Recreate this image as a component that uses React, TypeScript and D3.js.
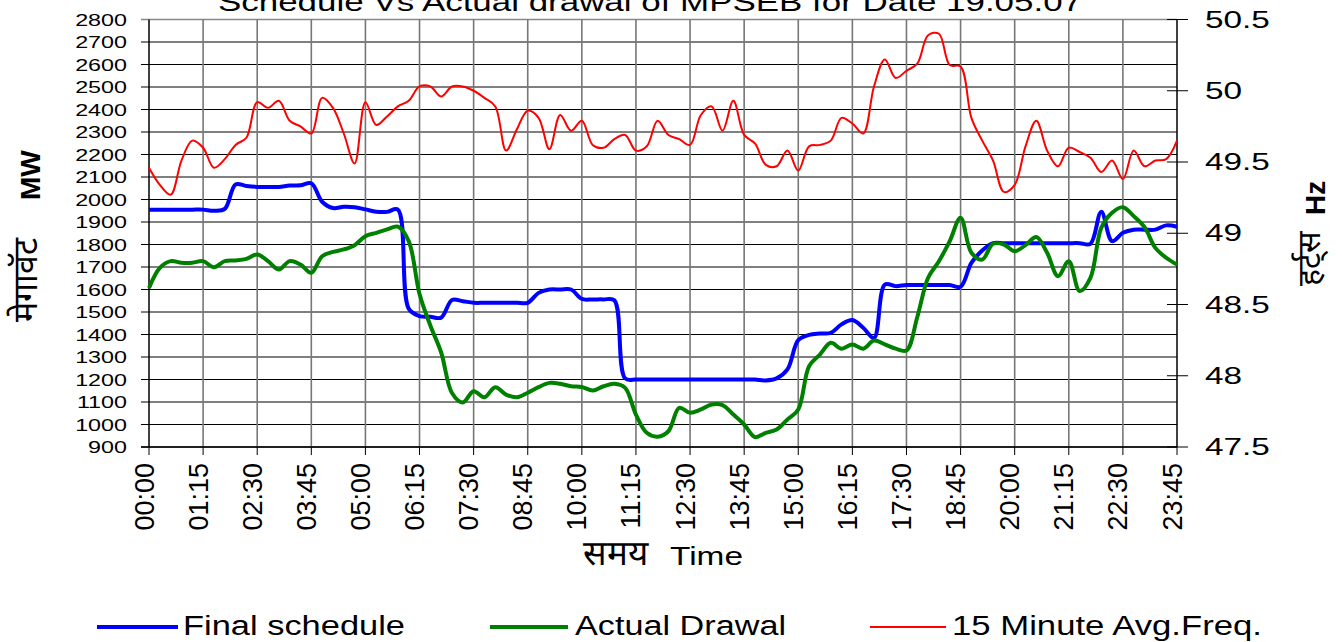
import * as d3 from "d3";

// 15-minute slots 00:00 .. 23:45 (96 points)
const tickLabels = [
  "00:00", "01:15", "02:30", "03:45", "05:00", "06:15", "07:30", "08:45", "10:00", "11:15",
  "12:30", "13:45", "15:00", "16:15", "17:30", "18:45", "20:00", "21:15", "22:30", "23:45",
];

const mwTicks = [900, 1000, 1100, 1200, 1300, 1400, 1500, 1600, 1700, 1800, 1900, 2000, 2100, 2200, 2300, 2400, 2500, 2600, 2700, 2800];
const hzTicks = [47.5, 48, 48.5, 49, 49.5, 50, 50.5];

const finalSchedule = [
  1955, 1955, 1955, 1955, 1955, 1955, 1950, 1958, 2067, 2060,
  2056, 2056, 2056, 2062, 2063, 2072, 1990, 1962, 1968, 1966,
  1956, 1946, 1945, 1955, 1515, 1482, 1479, 1475, 1553, 1548,
  1541, 1541, 1541, 1541, 1541, 1541, 1585, 1600, 1600, 1600,
  1558, 1556, 1556, 1552, 1205, 1200, 1200, 1200, 1200, 1200,
  1200, 1200, 1200, 1200, 1200, 1200, 1200, 1196, 1205, 1245,
  1375, 1398, 1404, 1407, 1445, 1464, 1430, 1385, 1622, 1615,
  1620, 1620, 1620, 1620, 1620, 1612, 1718, 1773, 1806, 1806,
  1806, 1806, 1806, 1806, 1806, 1806, 1806, 1803, 1945, 1815,
  1852, 1866, 1866, 1866, 1885, 1879,
];

const actualDrawal = [
  1607, 1696, 1726, 1719, 1719, 1726, 1699, 1726, 1729, 1736,
  1756, 1726, 1689, 1726, 1711, 1674, 1748, 1767, 1778, 1797,
  1837, 1852, 1867, 1879, 1815, 1580, 1440, 1320, 1140, 1098,
  1148, 1121, 1166, 1133, 1121, 1141, 1166, 1185, 1181, 1170,
  1167, 1151, 1170, 1181, 1163, 1044, 963, 946, 970, 1074,
  1052, 1067, 1089, 1086, 1044, 1000, 944, 963, 978, 1022,
  1067, 1259, 1311, 1363, 1337, 1356, 1337, 1373, 1356, 1337,
  1329, 1478, 1652, 1726, 1815, 1919, 1763, 1733, 1803, 1800,
  1770, 1797, 1833, 1763, 1659, 1726, 1593, 1652, 1874, 1941,
  1966, 1926, 1877, 1785, 1741, 1711,
];

const avgFreq = [
  49.46, 49.34, 49.27, 49.51, 49.65, 49.60, 49.46, 49.52, 49.62, 49.67,
  49.92, 49.88, 49.93, 49.79, 49.75, 49.70, 49.95, 49.88, 49.70, 49.49,
  49.92, 49.76, 49.82, 49.89, 49.93, 50.03, 50.03, 49.96, 50.03, 50.03,
  50.00, 49.95, 49.89, 49.58, 49.73, 49.86, 49.81, 49.59, 49.83, 49.72,
  49.79, 49.62, 49.60, 49.66, 49.69, 49.58, 49.61, 49.79, 49.69, 49.66,
  49.62, 49.83, 49.89, 49.72, 49.93, 49.69, 49.63, 49.48, 49.47, 49.58,
  49.44, 49.61, 49.62, 49.65, 49.81, 49.77, 49.70, 50.03, 50.22, 50.09,
  50.14, 50.19, 50.39, 50.40, 50.18, 50.17, 49.81, 49.65, 49.51, 49.29,
  49.34, 49.61, 49.79, 49.58, 49.47, 49.60, 49.57, 49.53, 49.43, 49.51,
  49.38, 49.58, 49.47, 49.51, 49.52, 49.65,
];

const legendItems = [
  { label: "Final schedule", color: "#0000ff", width: 4, x1: 97, x2: 178, tx: 183, tl: 222 },
  { label: "Actual Drawal", color: "#008000", width: 4, x1: 490, x2: 568, tx: 575, tl: 211 },
  { label: "15 Minute Avg.Freq.", color: "#ff0000", width: 2, x1: 870, x2: 946, tx: 952, tl: 310 },
];

const W = 1342;
const H = 642;
const plot = { left: 149, right: 1177, top: 19.5, bottom: 447 };
const FONT = "'Liberation Sans', Arial, sans-serif";

export default function App() {
  const x = d3.scaleLinear().domain([0, finalSchedule.length - 1]).range([plot.left, plot.right]);
  const y = d3.scaleLinear().domain([900, 2800]).range([plot.bottom, plot.top]);
  const yHz = d3.scaleLinear().domain([47.5, 50.5]).range([plot.bottom, plot.top]);

  const mwLine = d3
    .line<number>()
    .x((_, i) => x(i))
    .y((d) => y(d))
    .curve(d3.curveCatmullRom.alpha(0.5));
  const hzLine = d3
    .line<number>()
    .x((_, i) => x(i))
    .y((d) => yHz(d))
    .curve(d3.curveCatmullRom.alpha(0.5));

  return (
    <svg
      width={W}
      height={H}
      style={{ position: "absolute", left: 0, top: 0, background: "#fff" }}
      fontFamily={FONT}
    >
      {/* title, clipped at the top like the original */}
      <text x={218} y={11} fontSize={26} textLength={864} lengthAdjust="spacingAndGlyphs" fill="#000">
        Schedule Vs Actual drawal of MPSEB for Date 19.05.07
      </text>

      {/* horizontal grid */}
      {mwTicks.map((t) => (
        <line
          key={`h${t}`}
          x1={plot.left - 8}
          x2={plot.right}
          y1={y(t)}
          y2={y(t)}
          stroke={t === 2800 ? "#888" : "#000"}
          strokeWidth={t === 2800 ? 1.5 : 1}
        />
      ))}

      {/* vertical grid + bottom ticks */}
      {tickLabels.map((lab, k) => (
        <g key={lab}>
          {k > 0 && k < tickLabels.length - 1 && (
            <line x1={x(k * 5)} x2={x(k * 5)} y1={plot.top} y2={plot.bottom} stroke="#777" strokeWidth={1.6} />
          )}
          <line x1={x(k * 5)} x2={x(k * 5)} y1={plot.bottom} y2={plot.bottom + 8} stroke="#000" strokeWidth={1} />
          <text
            transform={`translate(${x(k * 5) + 4.5},463) rotate(-90)`}
            textAnchor="end"
            fontSize={27}
            fill="#000"
          >
            {lab}
          </text>
        </g>
      ))}

      {/* axes lines */}
      <line x1={plot.left} x2={plot.left} y1={plot.top} y2={plot.bottom} stroke="#000" strokeWidth={1.5} />
      <line x1={plot.right} x2={plot.right} y1={plot.top} y2={plot.bottom} stroke="#000" strokeWidth={1.5} />
      <line x1={plot.left - 8} x2={plot.right} y1={plot.bottom} y2={plot.bottom} stroke="#000" strokeWidth={1.5} />

      {/* left tick labels */}
      {mwTicks.map((t) => (
        <text
          key={`l${t}`}
          transform={`translate(127,${y(t) + 6}) scale(1.43,1)`}
          textAnchor="end"
          fontSize={16.3}
          fill="#000"
        >
          {t}
        </text>
      ))}

      {/* right axis ticks + labels */}
      {hzTicks.map((t) => (
        <g key={`r${t}`}>
          <line x1={plot.right - 10} x2={plot.right + 11} y1={yHz(t)} y2={yHz(t)} stroke="#000" strokeWidth={1} />
          <text
            transform={`translate(1205,${yHz(t) + 8}) scale(1.45,1)`}
            fontSize={23}
            fill="#000"
          >
            {t}
          </text>
        </g>
      ))}

      {/* series */}
      <path d={mwLine(finalSchedule) ?? ""} fill="none" stroke="#0000ff" strokeWidth={4} strokeLinejoin="round" />
      <path d={mwLine(actualDrawal) ?? ""} fill="none" stroke="#008000" strokeWidth={4} strokeLinejoin="round" />
      <path d={hzLine(avgFreq) ?? ""} fill="none" stroke="#ff0000" strokeWidth={2} strokeLinejoin="round" />

      {/* axis titles */}
      <text transform="translate(40,200) rotate(-90)" fontSize={28} fontWeight="bold" fill="#000">
        MW
      </text>
      <text transform="translate(37,322) rotate(-90)" fontSize={34} fill="#000">
        मेगावॅट
      </text>
      <text transform="translate(1325,215) rotate(-90)" fontSize={28} fontWeight="bold" fill="#000">
        Hz
      </text>
      <text transform="translate(1320,286) rotate(-90)" fontSize={32} fill="#000">
        हर्ट्स
      </text>
      <text x={583} y={565} fontSize={35} fill="#000">
        समय
      </text>
      <text x={670} y={565} fontSize={25} textLength={73} lengthAdjust="spacingAndGlyphs" fill="#000">
        Time
      </text>

      {/* legend */}
      {legendItems.map((d) => (
        <g key={d.label}>
          <line x1={d.x1} x2={d.x2} y1={627} y2={627} stroke={d.color} strokeWidth={d.width} />
          <text x={d.tx} y={635} fontSize={27} textLength={d.tl} lengthAdjust="spacingAndGlyphs" fill="#000">
            {d.label}
          </text>
        </g>
      ))}
    </svg>
  );
}
